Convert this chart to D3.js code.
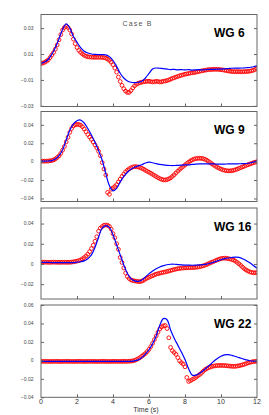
<!DOCTYPE html>
<head>
	<meta charset="utf-8">
	<script type="text/javascript" src="https://cdn.jsdelivr.net/npm/d3@7/dist/d3.min.js"></script>
	<style>
		body { margin: 0; background: #fff; }
		text { font-family: "Liberation Sans", Arial, sans-serif; }
	</style>
</head>
<body>
	<script type="text/javascript">

	// sample steps (s): measured circles every 0.1 s, model line every 0.2 s
	var redStep = 0.1;
	var blueStep = 0.2;

	var gauges = ["WG 6", "WG 9", "WG 16", "WG 22"];
	var xTicks = [0, 2, 4, 6, 8, 10, 12];

	var yTicks6 = [-0.03, -0.01, 0.01, 0.03];
	var yTicks9 = [-0.04, -0.02, 0, 0.02, 0.04];
	var yTicks16 = [-0.02, 0, 0.02, 0.04];
	var yTicks22 = [-0.04, -0.02, 0, 0.02, 0.04, 0.06];

	// measured (red circles)
	var red6 = [
		0.0027, 0.0030, 0.0036, 0.0044, 0.0054, 0.0072, 0.0092, 0.0112, 0.0138, 0.0170,
		0.0210, 0.0250, 0.0285, 0.0305, 0.0313, 0.0305, 0.0285, 0.0255, 0.0215, 0.0180,
		0.0150, 0.0128, 0.0112, 0.0100, 0.0090, 0.0083, 0.0079, 0.0077, 0.0076, 0.0075,
		0.0075, 0.0075, 0.0075, 0.0075, 0.0074, 0.0072, 0.0068, 0.0061, 0.0051, 0.0037,
		0.0018, -0.0008, -0.0040, -0.0078, -0.0112, -0.0142, -0.0168, -0.0186, -0.0197, -0.0196,
		-0.0182, -0.0162, -0.0145, -0.0133, -0.0126, -0.0121, -0.0117, -0.0114, -0.0112, -0.0111,
		-0.0110, -0.0113, -0.0116, -0.0114, -0.0111, -0.0112, -0.0116, -0.0114, -0.0110, -0.0108,
		-0.0105, -0.0100, -0.0094, -0.0088, -0.0083, -0.0078, -0.0073, -0.0068, -0.0064, -0.0060,
		-0.0056, -0.0053, -0.0050, -0.0047, -0.0045, -0.0043, -0.0040, -0.0037, -0.0034, -0.0031,
		-0.0028, -0.0025, -0.0023, -0.0021, -0.0020, -0.0019, -0.0018, -0.0018, -0.0018, -0.0019,
		-0.0021, -0.0023, -0.0025, -0.0028, -0.0031, -0.0033, -0.0035, -0.0036, -0.0036, -0.0036,
		-0.0036, -0.0037, -0.0037, -0.0036, -0.0035, -0.0034, -0.0032, -0.0029, -0.0025, -0.0019,
		-0.0012
	];
	var red9 = [
		0.0005, 0.0005, 0.0005, 0.0006, 0.0007, 0.0009, 0.0013, 0.0019, 0.0030, 0.0045,
		0.0063, 0.0090, 0.0125, 0.0165, 0.0215, 0.0265, 0.0318, 0.0360, 0.0388, 0.0401,
		0.0405, 0.0404, 0.0396, 0.0380, 0.0355, 0.0325, 0.0295, 0.0268, 0.0242, 0.0213,
		0.0182, 0.0150, 0.0112, 0.0065, -0.0010, -0.0080, -0.0145, -0.0335, -0.0355, -0.0300,
		-0.0285, -0.0270, -0.0250, -0.0220, -0.0190, -0.0160, -0.0135, -0.0110, -0.0093, -0.0078,
		-0.0066, -0.0058, -0.0054, -0.0055, -0.0058, -0.0064, -0.0072, -0.0082, -0.0094, -0.0105,
		-0.0115, -0.0126, -0.0138, -0.0150, -0.0162, -0.0174, -0.0184, -0.0192, -0.0198, -0.0199,
		-0.0195, -0.0187, -0.0176, -0.0160, -0.0142, -0.0122, -0.0103, -0.0085, -0.0068, -0.0052,
		-0.0036, -0.0020, -0.0006, 0.0008, 0.0019, 0.0028, 0.0033, 0.0036, 0.0037, 0.0036,
		0.0033, 0.0026, 0.0016, 0.0004, -0.0010, -0.0024, -0.0038, -0.0050, -0.0062, -0.0072,
		-0.0081, -0.0088, -0.0094, -0.0098, -0.0100, -0.0100, -0.0098, -0.0094, -0.0088, -0.0081,
		-0.0073, -0.0065, -0.0057, -0.0049, -0.0041, -0.0033, -0.0026, -0.0019, -0.0012, -0.0006,
		0.0000
	];
	var red16 = [
		0.0017, 0.0018, 0.0018, 0.0017, 0.0016, 0.0016, 0.0017, 0.0018, 0.0017, 0.0016,
		0.0016, 0.0016, 0.0017, 0.0017, 0.0016, 0.0016, 0.0017, 0.0018, 0.0021, 0.0024,
		0.0028, 0.0033, 0.0040, 0.0050, 0.0063, 0.0078, 0.0097, 0.0122, 0.0152, 0.0185,
		0.0225, 0.0270, 0.0325, 0.0355, 0.0370, 0.0383, 0.0386, 0.0383, 0.0372, 0.0345,
		0.0300, 0.0260, 0.0200, 0.0145, 0.0065, 0.0015, -0.0040, -0.0090, -0.0125, -0.0145,
		-0.0158, -0.0164, -0.0168, -0.0171, -0.0174, -0.0175, -0.0170, -0.0162, -0.0150, -0.0140,
		-0.0132, -0.0124, -0.0116, -0.0108, -0.0101, -0.0096, -0.0091, -0.0087, -0.0083, -0.0079,
		-0.0075, -0.0070, -0.0065, -0.0060, -0.0055, -0.0051, -0.0047, -0.0044, -0.0042, -0.0040,
		-0.0039, -0.0038, -0.0037, -0.0036, -0.0036, -0.0035, -0.0033, -0.0031, -0.0028, -0.0024,
		-0.0019, -0.0013, -0.0006, 0.0002, 0.0010, 0.0018, 0.0025, 0.0033, 0.0040, 0.0047,
		0.0053, 0.0056, 0.0057, 0.0056, 0.0053, 0.0049, 0.0044, 0.0038, 0.0028, 0.0015,
		0.0001, -0.0015, -0.0032, -0.0048, -0.0060, -0.0070, -0.0078, -0.0084, -0.0087, -0.0087,
		-0.0085
	];
	var red22 = [
		-0.0011, -0.0011, -0.0010, -0.0011, -0.0011, -0.0012, -0.0011, -0.0011, -0.0010, -0.0011,
		-0.0011, -0.0012, -0.0011, -0.0011, -0.0010, -0.0011, -0.0011, -0.0011, -0.0012, -0.0011,
		-0.0011, -0.0010, -0.0011, -0.0011, -0.0012, -0.0011, -0.0011, -0.0010, -0.0011, -0.0011,
		-0.0011, -0.0012, -0.0011, -0.0011, -0.0010, -0.0011, -0.0011, -0.0011, -0.0012, -0.0011,
		-0.0011, -0.0010, -0.0011, -0.0011, -0.0011, -0.0011, -0.0010, -0.0011, -0.0010, -0.0009,
		-0.0008, -0.0005, 0.0000, 0.0008, 0.0018, 0.0030, 0.0045, 0.0060, 0.0075, 0.0095,
		0.0120, 0.0150, 0.0185, 0.0225, 0.0265, 0.0305, 0.0340, 0.0362, 0.0375, 0.0378,
		0.0345, 0.0245, 0.0140, 0.0105, 0.0085, 0.0065, 0.0030, -0.0005, -0.0025, -0.0040,
		-0.0070, -0.0185, -0.0228, -0.0220, -0.0208, -0.0198, -0.0185, -0.0170, -0.0155, -0.0140,
		-0.0120, -0.0102, -0.0090, -0.0080, -0.0072, -0.0066, -0.0061, -0.0058, -0.0056, -0.0055,
		-0.0055, -0.0055, -0.0056, -0.0058, -0.0060, -0.0062, -0.0064, -0.0065, -0.0064, -0.0062,
		-0.0058, -0.0053, -0.0048, -0.0042, -0.0035, -0.0028, -0.0022, -0.0017, -0.0013, -0.0011,
		-0.0010
	];

	// model (blue line)
	var blue6 = [
		0.0028, 0.0038, 0.0058, 0.0098, 0.0150, 0.0218, 0.0290, 0.0332, 0.0300, 0.0235,
		0.0190, 0.0150, 0.0122, 0.0108, 0.0100, 0.0097, 0.0096, 0.0096, 0.0094, 0.0080,
		0.0050, 0.0005, -0.0048, -0.0085, -0.0108, -0.0118, -0.0121, -0.0118, -0.0110, -0.0085,
		-0.0050, -0.0015, -0.0008, -0.0010, -0.0012, -0.0016, -0.0020, -0.0018, -0.0022, -0.0020,
		-0.0023, -0.0020, -0.0024, -0.0022, -0.0021, -0.0023, -0.0020, -0.0019, -0.0018, -0.0017,
		-0.0016, -0.0014, -0.0012, -0.0010, -0.0009, -0.0009, -0.0008, -0.0006, -0.0004, 0.0002,
		0.0008
	];
	var blue9 = [
		0.0005, 0.0005, 0.0007, 0.0012, 0.0028, 0.0065, 0.0130, 0.0235, 0.0340, 0.0410,
		0.0445, 0.0452, 0.0420, 0.0360, 0.0290, 0.0210, 0.0120, 0.0015, -0.0130, -0.0260,
		-0.0318, -0.0290, -0.0220, -0.0160, -0.0115, -0.0082, -0.0060, -0.0045, -0.0033, -0.0015,
		-0.0005, -0.0012, -0.0022, -0.0030, -0.0036, -0.0040, -0.0042, -0.0042, -0.0040, -0.0038,
		-0.0036, -0.0034, -0.0030, -0.0027, -0.0025, -0.0025, -0.0025, -0.0025, -0.0025, -0.0026,
		-0.0026, -0.0026, -0.0025, -0.0025, -0.0024, -0.0023, -0.0022, -0.0020, -0.0015, -0.0005,
		0.0008
	];
	var blue16 = [
		0.0015, 0.0015, 0.0015, 0.0014, 0.0014, 0.0014, 0.0014, 0.0014, 0.0014, 0.0014,
		0.0018, 0.0022, 0.0030, 0.0052, 0.0090, 0.0165, 0.0265, 0.0355, 0.0380, 0.0362,
		0.0290, 0.0190, 0.0090, -0.0010, -0.0095, -0.0145, -0.0168, -0.0172, -0.0158, -0.0128,
		-0.0098, -0.0070, -0.0048, -0.0030, -0.0018, -0.0008, -0.0003, -0.0003, -0.0006, -0.0009,
		-0.0011, -0.0012, -0.0013, -0.0012, -0.0010, -0.0006, -0.0001, 0.0007, 0.0018, 0.0030,
		0.0042, 0.0052, 0.0059, 0.0064, 0.0067, 0.0065, 0.0052, 0.0033, 0.0012, -0.0015,
		-0.0043
	];
	var blue22 = [
		-0.0010, -0.0010, -0.0010, -0.0010, -0.0010, -0.0010, -0.0010, -0.0010, -0.0010, -0.0010,
		-0.0010, -0.0010, -0.0010, -0.0010, -0.0010, -0.0010, -0.0010, -0.0010, -0.0010, -0.0010,
		-0.0010, -0.0010, -0.0010, -0.0010, -0.0010, -0.0010, -0.0006, 0.0005, 0.0030, 0.0068,
		0.0115, 0.0180, 0.0265, 0.0380, 0.0452, 0.0440, 0.0330, 0.0240, 0.0165, 0.0090,
		0.0010, -0.0090, -0.0160, -0.0160, -0.0140, -0.0112, -0.0080, -0.0045, -0.0010, 0.0020,
		0.0045, 0.0060, 0.0063, 0.0055, 0.0042, 0.0030, 0.0018, 0.0006, -0.0004, -0.0009,
		-0.0010
	];

	var w = 269;
	var h = 415;
	var left = 41, right = 257;

	var panels = [
		{ name: gauges[0], red: red6, blue: blue6, ticks: yTicks6, fmt: ".2f", top: 14.5, bottom: 106.5, domain: [-0.0305, 0.0405] },
		{ name: gauges[1], red: red9, blue: blue9, ticks: yTicks9, fmt: ".2f", top: 111.5, bottom: 201.5, domain: [-0.0433, 0.0545] },
		{ name: gauges[2], red: red16, blue: blue16, ticks: yTicks16, fmt: ".2f", top: 208, bottom: 299, domain: [-0.0347, 0.0554] },
		{ name: gauges[3], red: red22, blue: blue22, ticks: yTicks22, fmt: ".2f", top: 305, bottom: 397.3, domain: [-0.04, 0.06] }
	];

	var svg = d3.select("body")
	.append("svg")
	.attr("width", w)
	.attr("height", h);

	var xscale = d3.scaleLinear()
	.domain([0, 12])
	.range([left, right]);

	function tickFmt(v){
		if (Math.abs(v) < 1e-9) return "0";
		return d3.format(".2f")(v);
	}

	panels.forEach(function(p, i){
		var yscale = d3.scaleLinear()
		.domain(p.domain)
		.range([p.bottom, p.top]);

		var g = svg.append("g");

		// clip
		var cid = "clip" + i;
		g.append("clipPath").attr("id", cid)
		.append("rect")
		.attr("x", left).attr("y", p.top)
		.attr("width", right - left).attr("height", p.bottom - p.top);

		var plot = g.append("g").attr("clip-path", "url(#" + cid + ")");

		plot.selectAll("circle")
		.data(p.red)
		.enter()
		.append("circle")
		.attr("cx", function(d, k){ return xscale(k * redStep); })
		.attr("cy", function(d){ return yscale(d); })
		.attr("r", 1.9)
		.attr("fill", "none")
		.attr("stroke", "#ff0000")
		.attr("stroke-width", 0.9);

		var line = d3.line()
		.x(function(d, k){ return xscale(k * blueStep); })
		.y(function(d){ return yscale(d); })
		.curve(d3.curveCatmullRom);

		plot.append("path")
		.datum(p.blue)
		.attr("d", line)
		.attr("fill", "none")
		.attr("stroke", "#0000ff")
		.attr("stroke-width", 1.2);

		// inward ticks: bottom (x), left/right (y)
		g.append("g")
		.attr("transform", "translate(0," + p.bottom + ")")
		.call(d3.axisTop(xscale).tickValues(xTicks.slice(1, -1)).tickSize(3).tickFormat(""))
		.call(function(a){ a.select(".domain").remove(); a.selectAll("line").attr("stroke", "#666"); });

		g.append("g")
		.attr("transform", "translate(" + left + ",0)")
		.call(d3.axisRight(yscale).tickValues(p.ticks).tickSize(3).tickFormat(""))
		.call(function(a){ a.select(".domain").remove(); a.selectAll("line").attr("stroke", "#666"); });

		g.append("g")
		.attr("transform", "translate(" + right + ",0)")
		.call(d3.axisLeft(yscale).tickValues(p.ticks).tickSize(3).tickFormat(""))
		.call(function(a){ a.select(".domain").remove(); a.selectAll("line").attr("stroke", "#666"); });

		// y tick labels
		g.selectAll("text.ylab")
		.data(p.ticks)
		.enter()
		.append("text")
		.attr("class", "ylab")
		.text(tickFmt)
		.attr("x", 33.5)
		.attr("y", function(d){ return yscale(d) + 1.8; })
		.attr("text-anchor", "end")
		.attr("font-size", "5px")
		.attr("fill", "#444");

		// frame
		g.append("rect")
		.attr("x", left).attr("y", p.top)
		.attr("width", right - left).attr("height", p.bottom - p.top)
		.attr("fill", "none")
		.attr("stroke", "#666")
		.attr("stroke-width", 1);

		g.append("text")
		.text(p.name)
		.attr("x", 214)
		.attr("y", p.top + 22.5)
		.attr("font-size", "12px")
		.attr("font-weight", "bold")
		.attr("fill", "#000");

		if (i === 3) {
			svg.selectAll("text.xlab")
			.data(xTicks)
			.enter()
			.append("text")
			.attr("class", "xlab")
			.text(function(d){ return d; })
			.attr("x", function(d){ return xscale(d); })
			.attr("y", p.bottom + 7)
			.attr("text-anchor", "middle")
			.attr("font-size", "7px")
			.attr("fill", "#333");
		}
	});

	svg.append("text")
	.text("Case B")
	.attr("x", 137.5)
	.attr("y", 25.5)
	.attr("text-anchor", "middle")
	.attr("font-size", "7px")
	.attr("letter-spacing", "1.2px")
	.attr("fill", "#555");

	svg.append("text")
	.text("Time (s)")
	.attr("x", 146)
	.attr("y", 411.5)
	.attr("text-anchor", "middle")
	.attr("font-size", "7px")
	.attr("fill", "#333");

	</script>
</body>
</html>
